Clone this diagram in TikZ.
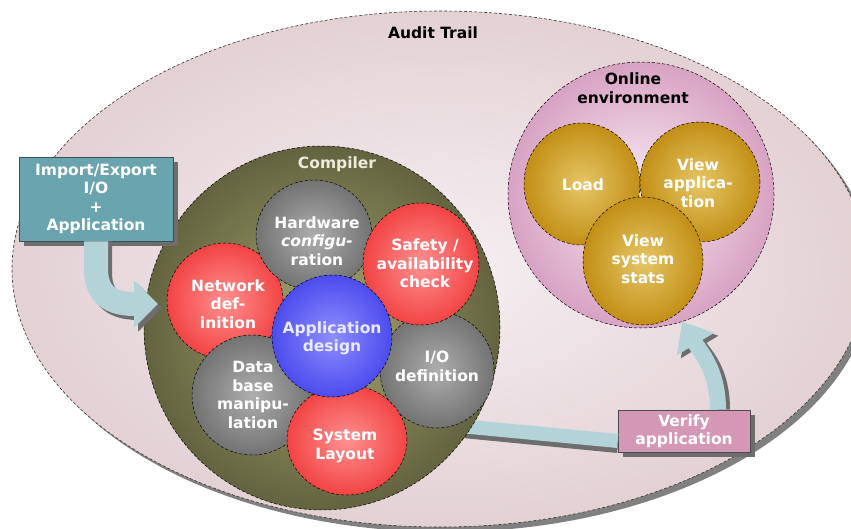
\documentclass[tikz,border=0pt]{standalone}
\usepackage{fontspec}
\setmainfont{DejaVu Sans}
\usetikzlibrary{shapes.geometric,arrows.meta}

\definecolor{auditIn}{HTML}{F6EFF3}
\definecolor{auditOut}{HTML}{E3D1D4}
\definecolor{shadowC}{HTML}{808080}
\definecolor{oliveIn}{HTML}{A8A872}
\definecolor{oliveOut}{HTML}{636340}
\definecolor{grayIn}{HTML}{AEAEAE}
\definecolor{grayOut}{HTML}{737373}
\definecolor{redIn}{HTML}{FF9090}
\definecolor{redOut}{HTML}{F24444}
\definecolor{blueIn}{HTML}{8E8EFF}
\definecolor{blueOut}{HTML}{4C4CEE}
\definecolor{goldIn}{HTML}{E6C666}
\definecolor{goldOut}{HTML}{C28F16}
\definecolor{onlIn}{HTML}{F8EDF4}
\definecolor{onlOut}{HTML}{D8A2C3}
\definecolor{tealC}{HTML}{6AA4AE}
\definecolor{mauveC}{HTML}{D497B6}
\definecolor{bandC}{HTML}{B3D3D9}
\definecolor{cmpText}{HTML}{ECECDC}

\begin{document}
\begin{tikzpicture}[x=1pt,y=-1pt,
  ball/.style={ellipse, draw=black, densely dashed, line width=0.5pt, inner sep=0pt, shading=radial},
  grayball/.style={ball, inner color=grayIn, outer color=grayOut},
  redball/.style={ball, inner color=redIn, outer color=redOut},
  goldball/.style={ball, inner color=goldIn, outer color=goldOut},
  lbl/.style={font=\bfseries\fontsize{15.5}{18.5}\selectfont, text=white, align=center, inner sep=0pt},
  dlbl/.style={font=\bfseries\fontsize{15.5}{19}\selectfont, text=black, align=center, inner sep=0pt},
  impbox/.style={rectangle, minimum width=154pt, minimum height=84pt, inner sep=0pt},
  verbox/.style={rectangle, minimum width=132pt, minimum height=42pt, inner sep=0pt},
  tipL/.style={-{Triangle[length=24pt,width=46pt]}},
  tipV/.style={-{Triangle[length=26pt,width=42pt]}}
]
\useasboundingbox (0,0) rectangle (851,529);
\clip (0,0) rectangle (851,529);

% Audit trail
\node[ellipse, minimum width=856pt, minimum height=516pt, inner sep=0pt, fill=shadowC] (auditS) at (445,274) {};
\node[ellipse, minimum width=856pt, minimum height=516pt, inner sep=0pt, draw=black!80, densely dashed, line width=0.6pt, shading=radial, inner color=auditIn, outer color=auditOut] (audit) at (440,269) {};
\node[dlbl] (auditT) at (433,33) {Audit Trail};

% Online environment
\node[ball, inner color=onlIn, outer color=onlOut, minimum width=266pt, minimum height=266pt] (onl) at (641,195) {};
\node[dlbl] (onlT) at (633,88) {Online\\environment};
\node[goldball, minimum width=116pt, minimum height=122pt] (load) at (582,184) {};
\node[lbl] (loadT) at (583,185) {Load};
\node[goldball, minimum width=120pt, minimum height=120pt] (vapp) at (700,182) {};
\node[lbl] (vappT) at (698,183) {View\\applica-\\tion};
\node[goldball, minimum width=120pt, minimum height=128pt] (vsys) at (643,261) {};
\node[lbl] (vsysT) at (643,259) {View\\system\\stats};

% Verify application and its connectors
\node[verbox, fill=shadowC!85!black] (verS) at (689,436) {};
\node[verbox, fill=mauveC, draw=black!70, line width=0.5pt, lbl] (ver) at (684,431) {Verify\\application};
\coordinate (bandS) at (460,426);
\draw[draw=shadowC!85!black, line width=14pt] ([shift={(3,5)}]bandS) -- ([shift={(0,15)}]ver.west);
\draw[draw=bandC, line width=14pt] (bandS) -- ([shift={(0,10)}]ver.west);
\draw[draw=shadowC!85!black, line width=16pt, tipV] ([shift={(38,0)}]ver.north) .. controls +(0,-40) and +(18,30) .. ([shift={(4,3)}]onl.-72);
\draw[draw=bandC, line width=16pt, tipV] ([shift={(34,0)}]ver.north) .. controls +(0,-40) and +(18,30) .. (onl.-72);

% Compiler
\node[ball, inner color=oliveIn, outer color=oliveOut, minimum width=356pt, minimum height=364pt] (cmp) at (322,328) {};
\node[lbl, text=cmpText] (cmpT) at (337,164) {Compiler};

\node[redball, minimum width=116pt, minimum height=116pt] (net) at (225,301) {};
\node[lbl] (netT) at (228,304) {Network\\def-\\inition};
\node[grayball, minimum width=114pt, minimum height=116pt] (io) at (437,370) {};
\node[lbl] (ioT) at (437,366.5) {I/O\\definition};
\node[grayball, minimum width=116pt, minimum height=110pt] (hw) at (314,235) {};
\node[lbl] (hwT) at (317,241) {Hardware\\\textit{configu-}\\ration};
\node[redball, minimum width=116pt, minimum height=122pt] (saf) at (421,264) {};
\node[lbl] (safT) at (425,263.5) {Safety /\\availability\\check};
\node[grayball, minimum width=120pt, minimum height=120pt] (db) at (252,395) {};
\node[lbl] (dbT) at (253,395) {Data\\base\\manipu-\\lation};
\node[redball, minimum width=120pt, minimum height=110pt] (sys) at (347,440) {};
\node[lbl] (sysT) at (345,446) {System\\Layout};
\node[ball, inner color=blueIn, outer color=blueOut, minimum width=120pt, minimum height=122pt] (app) at (332,336) {};
\node[lbl, text=blue!8] (appT) at (332,338.5) {Application\\design};

% Import / Export box
\node[impbox, fill=shadowC!85!black] (impS) at (101,204) {};
\node[impbox, fill=tealC, draw=tealC!50!black, line width=0.6pt, lbl] (imp) at (96,199) {Import/Export\\I/O\\+\\Application};
\coordinate (tipL) at (158,304);
\draw[draw=shadowC!85!black, line width=24pt, tipL] ([shift={(4,0)}]imp.south) -- ++(0,31) .. controls +(0,32) and +(-40,0) .. ([shift={(4,4)}]tipL);
\draw[draw=bandC, line width=24pt, tipL] (imp.south) -- ++(0,27) .. controls +(0,32) and +(-40,0) .. (tipL);
\end{tikzpicture}
\end{document}
